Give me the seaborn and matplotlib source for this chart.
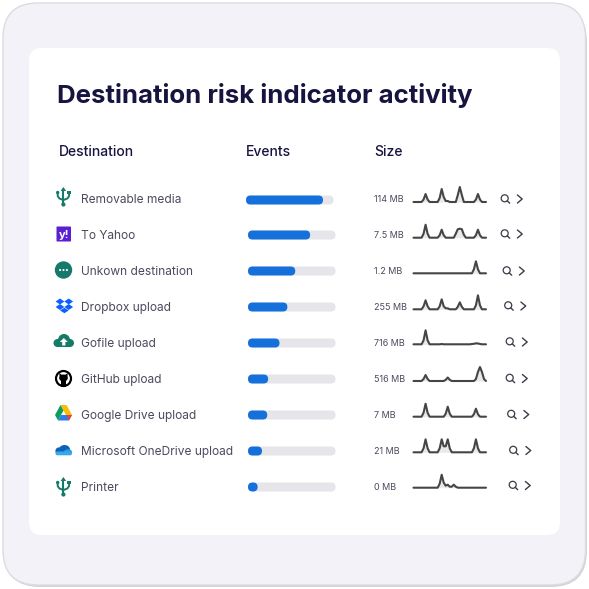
import matplotlib
matplotlib.use("Agg")
import matplotlib.pyplot as plt
import seaborn as sns
from matplotlib.patches import FancyBboxPatch, Circle, Polygon, Ellipse

# data
destinations = ["Removable media", "To Yahoo", "Unkown destination", "Dropbox upload", "Gofile upload",
                "GitHub upload", "Google Drive upload", "Microsoft OneDrive upload", "Printer"]
events = [88, 71, 54, 45, 36, 23, 22, 16, 11]
sizes = ["114 MB", "7.5 MB", "1.2 MB", "255 MB", "716 MB", "516 MB", "7 MB", "21 MB", "0 MB"]

spark_removable = [0,0,0,0,0,2.5,8,2.5,0,0,0,0,0,4,13,5,1,1,0,0,0,0,7,15,7,0,0,0,0,0,0,2.5,8,2.5,0,0,0]
spark_yahoo     = [0,0,0,0,0,4,13,4,0,0,0,0,0,2.5,8,2.5,0,0,0,0,0,4,8.5,9,8.5,3,0,0,0,0,0,2.5,8,2.5,0,0,0]
spark_unknown   = [0,0,0,0,0,0,0,0,0,0,0,0,0,0,0,0,0,0,0,0,0,0,0,0,0,0,0,0,0,0,4,12,4,0,0,0,0]
spark_dropbox   = [0,0,0,0,0,3,9,3,0,0,0,0,0,3,10,3,1,1,0,0,0,0,2.5,7,2.5,0,0,0,0,0,0,4,14,4,0,0,0]
spark_gofile    = [0,0,0,0,0,4,14,4,0,0,0,0,0,0,0.3,0,0,0,0,0,0,0,0,0,0,0,0,0,0,0.3,0.5,1,0.8,0.4,0,0,0]
spark_github    = [0,0,0,0,0,2,6,2,0,0,0,0,0,0,0,0,1.2,3.5,1.2,0,0,0,0,0,0,0,0,0,0,0,0,2,9,14,9,2,0]
spark_gdrive    = [0,0,0,0,0,4,13,4,0,0,0,0,0,0,0,0,3,10,3,0,0,0,0,0,0,0,0,0,0,0,2.5,8,2.5,0,0,0,0]
spark_onedrive  = [0,0,0,0,0,4,13,4,0,0,0,0,0,4,13,6,6,13,4,0,0,0,0,0,0,0,0,0,0,0,4,13,4,0,0,0,0]
spark_printer   = [0,0,0,0,0,0,0,0,0,0,0,0,0,4,13,5,2,3,1,1,3,1,0,0,0,0,0,0,0,0,0,0,0,0,0,0,0]
sparks = [spark_removable, spark_yahoo, spark_unknown, spark_dropbox, spark_gofile,
          spark_github, spark_gdrive, spark_onedrive, spark_printer]

# layout in pixels
label_y = [200, 236, 272, 308, 344, 380, 416, 452, 488]
bar_x = [246, 248, 248, 248, 248, 248, 248, 248, 248]
bar_y = [200, 235, 271, 307, 343, 379, 415, 451, 487]
size_y = [200, 236, 272, 308, 344, 380, 416, 452, 488]
spark_y = [202, 237.7, 273.3, 309.3, 344.3, 381, 416.7, 452.3, 487.7]
search_x = [505, 505, 507, 508.5, 510, 510, 511.5, 513.5, 513]
search_y = [199, 234, 271, 306, 342, 378.5, 414.5, 450.5, 485.5]

TEAL = "#17796a"
NAVY = "#17143f"
GREY = "#4b4a5f"

sns.set_theme(style="white")
plt.rcParams['font.family'] = ['Inter', 'DejaVu Sans']

fig = plt.figure(figsize=(5.89, 5.89), dpi=100, facecolor="white")
main = fig.add_axes([0, 0, 1, 1])
main.set_xlim(0, 589)
main.set_ylim(589, 0)
main.axis("off")


def px_axes(x, y, w, h):
    ax = fig.add_axes([x / 589, 1 - (y + h) / 589, w / 589, h / 589])
    ax.patch.set_alpha(0)
    return ax


def panel(x0, y0, x1, y1, r, **kw):
    main.add_patch(FancyBboxPatch((x0 + r, y0 + r), x1 - x0 - 2 * r, y1 - y0 - 2 * r,
                                  boxstyle=f"round,pad={r},rounding_size={r}", **kw))


def usb(cx, cy):
    main.plot([cx, cx], [cy - 7, cy + 7], color=TEAL, lw=1.5)
    main.plot([cx - 5.7, cx - 5.7, cx - 4, cx], [cy - 4, cy - 1, cy + 1.5, cy + 3], color=TEAL, lw=1.4)
    main.plot([cx + 5.7, cx + 5.7, cx + 4, cx], [cy - 4, cy - 1, cy + 1.5, cy + 3], color=TEAL, lw=1.4)
    main.add_patch(Polygon([(cx, cy - 10), (cx - 2.8, cy - 6), (cx + 2.8, cy - 6)], color=TEAL, lw=0))
    main.add_patch(Circle((cx, cy + 7.5), 2.1, color=TEAL, lw=0))
    main.add_patch(Circle((cx - 5.7, cy - 4.5), 1.7, color=TEAL, lw=0))
    main.add_patch(Polygon([(cx + 4, cy - 6), (cx + 7.4, cy - 6), (cx + 7.4, cy - 3), (cx + 4, cy - 3)], color=TEAL, lw=0))


def cloud(cx, cy, color):
    main.add_patch(Circle((cx + 0.5, cy - 1.5), 6, color=color, lw=0))
    main.add_patch(Circle((cx - 6, cy + 1.5), 4, color=color, lw=0))
    main.add_patch(Circle((cx + 6.5, cy + 1.5), 4, color=color, lw=0))
    main.add_patch(FancyBboxPatch((cx - 6, cy + 1), 12.5, 4.5, boxstyle="round,pad=0,rounding_size=1",
                                  color=color, lw=0))


def draw_icons():
    usb(63.4, 197)
    usb(63.4, 487)
    # yahoo
    main.add_patch(FancyBboxPatch((56.5, 226.5), 14.5, 15, boxstyle="round,pad=0,rounding_size=0.8",
                                  color="#5a1fd1", lw=0))
    main.text(63.7, 234.5, "y!", color="white", fontsize=8, fontweight="bold", ha="center", va="center")
    # unknown
    main.add_patch(Circle((63.5, 270), 8.7, color=TEAL, lw=0))
    for dx in (-3.4, 0, 3.4):
        main.add_patch(Circle((63.5 + dx, 270), 1.05, color="white", lw=0))
    # dropbox
    for cx, cy in ((60, 301.5), (68.7, 301.5), (60, 307), (68.7, 307)):
        main.add_patch(Polygon([(cx - 4.4, cy), (cx, cy - 3), (cx + 4.4, cy), (cx, cy + 3)], color="#0b61ff", lw=0))
    main.add_patch(Polygon([(60, 310.5), (64.4, 307.8), (68.7, 310.5), (64.4, 313.2)], color="#0b61ff", lw=0))
    # gofile
    cloud(63.5, 341.5, TEAL)
    main.add_patch(Polygon([(63.8, 338), (59.8, 342), (62.2, 342), (62.2, 345.5), (65.4, 345.5), (65.4, 342), (67.8, 342)],
                           color="white", lw=0))
    # github
    main.add_patch(Circle((63.5, 378.5), 8.6, color="black", lw=0))
    main.add_patch(Circle((63.5, 378.5), 6.4, color="white", lw=0))
    main.add_patch(Ellipse((63.5, 378), 8.6, 7, color="black", lw=0))
    main.add_patch(Polygon([(59.3, 373), (62, 375), (59.5, 377)], color="black", lw=0))
    main.add_patch(Polygon([(67.7, 373), (65, 375), (67.5, 377)], color="black", lw=0))
    main.add_patch(Polygon([(61, 380), (66, 380), (66, 386.5), (61, 386.5)], color="black", lw=0))
    # google drive
    main.add_patch(Polygon([(60.5, 405), (66.5, 405), (72, 415), (66, 415)], color="#fbbc04", lw=0))
    main.add_patch(Polygon([(60.5, 405), (55, 415), (58, 420.5), (63.5, 410.5)], color="#0f9d58", lw=0))
    main.add_patch(Polygon([(58, 420.5), (69, 420.5), (72, 415), (61, 415)], color="#2b7de9", lw=0))
    main.add_patch(Polygon([(69, 420.5), (72, 415), (66.5, 415)], color="#ea4335", lw=0))
    # onedrive
    main.add_patch(Circle((59, 451), 3.6, color="#0d62b8", lw=0))
    main.add_patch(Ellipse((64.5, 449.5), 11, 9, color="#0d62b8", lw=0))
    main.add_patch(Ellipse((68, 452), 8, 5.5, color="#2a9be0", lw=0))
    main.add_patch(FancyBboxPatch((55.5, 451.5), 16.5, 3.8, boxstyle="round,pad=0,rounding_size=1.8",
                                  color="#35a9ea", lw=0))


def search_icon(x, y):
    main.add_patch(Circle((x - 0.3, y - 0.7), 3.5, fill=False, ec="#3c3c4a", lw=0.9))
    main.plot([x + 2.2, x + 4.7], [y + 1.8, y + 4.2], color="#3c3c4a", lw=1.0)
    main.plot([x + 12.4, x + 17.2, x + 12.4], [y - 4, y, y + 4], color="#3c3c4a", lw=1.0)


def rounded_bars(ax, w, h):
    # swap the square seaborn bars for pill shaped ones, same extents
    for bar in list(ax.patches):
        r = h / 2 / (w / 100)
        pill = FancyBboxPatch((bar.get_x(), bar.get_y()), bar.get_width(), bar.get_height(),
                              boxstyle=f"round,pad=0,rounding_size={r}", mutation_aspect=(0.5 / r),
                              color=bar.get_facecolor(), lw=0, clip_on=False)
        bar.set_visible(False)
        ax.add_patch(pill)


# background cards
panel(4, 6, 587, 587, 36, color="#d4d4d8", lw=0)
panel(3, 3, 585.5, 585, 35, color="#f3f2f8", ec="#dcdce0", lw=1)
panel(29, 48, 560, 535, 13, color="white", lw=0)

main.text(57, 95, "Destination risk indicator activity", fontsize=18.6, fontweight="bold", color=NAVY, va="center")
main.text(59, 152.5, "Destination", fontsize=10, fontweight="medium", color=NAVY, va="center")
main.text(245.5, 152.5, "Events", fontsize=10, fontweight="medium", color=NAVY, va="center")
main.text(374, 152.5, "Size", fontsize=10, fontweight="medium", color=NAVY, va="center")

draw_icons()

for i, name in enumerate(destinations):
    main.text(81, label_y[i], name, fontsize=8.6, color=GREY, va="center")
    main.text(374, size_y[i], sizes[i], fontsize=6.5, color=GREY, va="center")
    search_icon(search_x[i], search_y[i])

    bar_ax = px_axes(bar_x[i], bar_y[i] - 4.5, 87.5, 9)
    sns.barplot(x=[100], y=[name], color="#e5e5ea", saturation=1, width=1, orient="h", ax=bar_ax)
    sns.barplot(x=[events[i]], y=[name], color="#1670dc", saturation=1, width=1, orient="h", ax=bar_ax)
    bar_ax.set_xlim(0, 100)
    bar_ax.set_ylim(0.5, -0.5)
    rounded_bars(bar_ax, 87.5, 9)
    bar_ax.axis("off")

    spark_ax = px_axes(413.5, spark_y[i] - 18, 72.5, 18)
    steps = list(range(len(sparks[i])))
    spark_ax.fill_between(steps, sparks[i], 0, color="#e9e9eb", lw=0)
    sns.lineplot(x=steps, y=sparks[i], color="#454548", lw=1.5, ax=spark_ax, clip_on=False,
                 solid_joinstyle="round")
    spark_ax.set_xlim(0, 36)
    spark_ax.set_ylim(0, 18)
    spark_ax.axis("off")

fig.savefig("out.png", dpi=100)
